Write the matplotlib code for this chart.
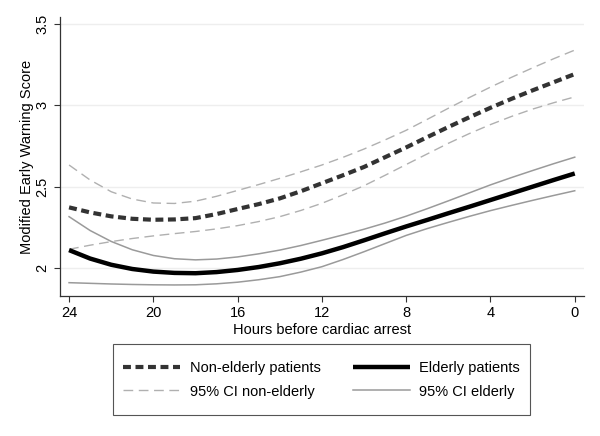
import matplotlib
matplotlib.use("Agg")
import matplotlib.pyplot as plt
from matplotlib.patches import Rectangle

plt.rcParams["font.family"] = ["Liberation Sans", "DejaVu Sans"]

hours = [24, 23, 22, 21, 20, 19, 18, 17, 16, 15, 14, 13, 12,
         11, 10, 9, 8, 7, 6, 5, 4, 3, 2, 1, 0]

nonelderly = [2.372, 2.341, 2.317, 2.302, 2.296, 2.298, 2.306, 2.331, 2.362, 2.392,
              2.427, 2.471, 2.52, 2.569, 2.62, 2.68, 2.74, 2.803, 2.865, 2.925,
              2.983, 3.038, 3.09, 3.14, 3.19]
nonelderly_hi = [2.632, 2.54, 2.468, 2.423, 2.399, 2.396, 2.41, 2.44, 2.476, 2.512,
                 2.55, 2.59, 2.632, 2.679, 2.73, 2.786, 2.845, 2.912, 2.98, 3.046,
                 3.11, 3.17, 3.228, 3.284, 3.337]
nonelderly_lo = [2.115, 2.14, 2.162, 2.181, 2.197, 2.211, 2.224, 2.24, 2.26, 2.285,
                 2.315, 2.353, 2.397, 2.449, 2.505, 2.569, 2.635, 2.70, 2.765, 2.825,
                 2.88, 2.93, 2.975, 3.014, 3.05]

elderly = [2.11, 2.058, 2.02, 1.994, 1.978, 1.97, 1.968, 1.975, 1.988, 2.006,
           2.029, 2.057, 2.09, 2.128, 2.17, 2.213, 2.255, 2.295, 2.336, 2.376,
           2.417, 2.458, 2.499, 2.54, 2.58]
elderly_hi = [2.315, 2.23, 2.163, 2.112, 2.077, 2.057, 2.05, 2.055, 2.068, 2.087,
              2.11, 2.138, 2.17, 2.203, 2.238, 2.276, 2.318, 2.364, 2.412, 2.461,
              2.51, 2.555, 2.598, 2.64, 2.68]
elderly_lo = [1.91, 1.906, 1.902, 1.899, 1.897, 1.896, 1.897, 1.903, 1.913, 1.928,
              1.947, 1.975, 2.008, 2.052, 2.10, 2.15, 2.20, 2.242, 2.28, 2.317,
              2.352, 2.384, 2.415, 2.445, 2.474]

xticks = [24, 20, 16, 12, 8, 4, 0]
yticks = [2, 2.5, 3, 3.5]
ytick_labels = ["2", "2.5", "3", "3.5"]

fig = plt.figure(figsize=(6, 4.36), dpi=100)
ax = fig.add_axes([0.1, 0.321, 0.873, 0.64])

ci_ne, = ax.plot(hours, nonelderly_hi, color="#b0b0b0", lw=1.0, dashes=(7, 4),
                 label="95% CI non-elderly")
ax.plot(hours, nonelderly_lo, color="#b0b0b0", lw=1.0, dashes=(7, 4))
ci_e, = ax.plot(hours, elderly_hi, color="#9a9a9a", lw=1.1, label="95% CI elderly")
ax.plot(hours, elderly_lo, color="#9a9a9a", lw=1.1)
m_ne, = ax.plot(hours, nonelderly, color="#333333", lw=3.0, dashes=(1.9, 1.1),
                label="Non-elderly patients")
m_e, = ax.plot(hours, elderly, color="black", lw=3.2, solid_capstyle="butt",
               label="Elderly patients")

ax.set_xlim(24.43, -0.43)
ax.set_ylim(1.828, 3.54)
ax.set_xticks(xticks)
ax.set_yticks(yticks)
ax.set_yticklabels(ytick_labels, rotation=90, va="center")
ax.tick_params(labelsize=10.5, length=4, width=0.8, color="#333333")
ax.grid(True, axis="y", color="#eeeeee", lw=1.0)
ax.set_axisbelow(True)
for s in ["top", "right"]:
    ax.spines[s].set_visible(False)
for s in ["left", "bottom"]:
    ax.spines[s].set_color("#333333")
    ax.spines[s].set_linewidth(0.9)

ax.set_xlabel("Hours before cardiac arrest", fontsize=10.5, labelpad=2)
ax.set_ylabel("Modified Early Warning Score", fontsize=10.5, labelpad=1)

# legend box drawn separately so the padding matches the original
fig.patches.append(Rectangle((113 / 600, 1 - 415 / 436), 417 / 600, 71 / 436,
                             transform=fig.transFigure, fill=False,
                             edgecolor="#555555", lw=0.8))
fig.legend(handles=[m_ne, ci_ne, m_e, ci_e], ncol=2, loc="center",
           bbox_to_anchor=(0.536, 1 - 380 / 436), fontsize=10.5, frameon=False,
           handlelength=3.9, handletextpad=0.65, columnspacing=2.2,
           labelspacing=0.62, borderpad=0, borderaxespad=0)

fig.savefig("out.png", dpi=100, facecolor="white")
